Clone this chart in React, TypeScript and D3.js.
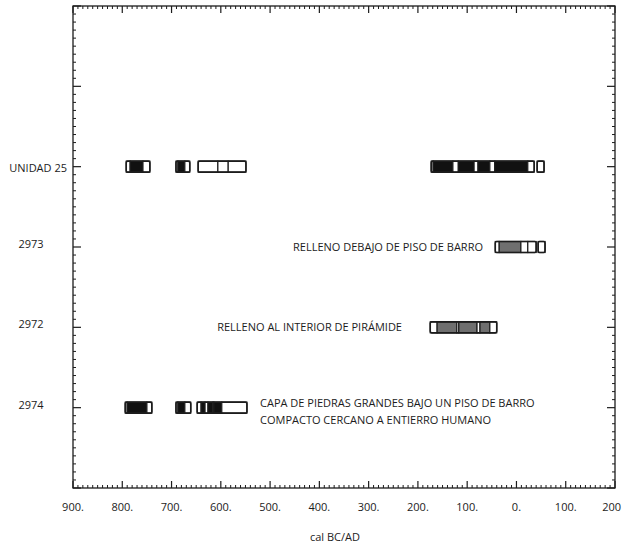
import React from 'react';
import * as d3 from 'd3';

// ---- data ----
const categories = ['UNIDAD 25', '2973', '2972', '2974'];
const categorySlots = [2, 3, 4, 5]; // position on the 0..6 vertical axis
const xTickValues = d3.range(-900, 201, 100); // negative = BC, positive = AD
const xTickLabels = xTickValues.map((v) => (v === 200 ? '200' : `${Math.abs(v)}.`));
const xAxisTitle = 'cal BC/AD';

type Seg = [number, number, 'b' | 'w' | 'g'];

const unidad25Boxes: Seg[][] = [
  [[-792, -784, 'w'], [-784, -758, 'b'], [-758, -744, 'w']],
  [[-691, -687, 'w'], [-687, -673, 'b'], [-673, -663, 'w']],
  [[-646, -606, 'w'], [-606, -585, 'w'], [-585, -549, 'w']],
  [[-173, -169, 'w'], [-169, -129, 'b'], [-129, -118, 'w'], [-118, -86, 'b'], [-86, -78, 'w'],
   [-78, -54, 'b'], [-54, -44, 'w'], [-44, 23, 'b'], [23, 36, 'w']],
  [[42, 56, 'w']],
];
const s2973Boxes: Seg[][] = [
  [[-43, -35, 'w'], [-35, 9, 'g'], [9, 23, 'w'], [23, 40, 'w']],
  [[44, 58, 'w']],
];
const s2972Boxes: Seg[][] = [
  [[-175, -161, 'w'], [-161, -121, 'g'], [-121, -117, 'w'], [-117, -80, 'g'], [-80, -74, 'w'],
   [-74, -54, 'g'], [-54, -40, 'w']],
];
const s2974Boxes: Seg[][] = [
  [[-794, -790, 'w'], [-790, -750, 'b'], [-750, -740, 'w']],
  [[-691, -687, 'w'], [-687, -673, 'b'], [-673, -661, 'w']],
  [[-648, -640, 'w'], [-640, -632, 'b'], [-632, -626, 'w'], [-626, -616, 'b'], [-616, -614, 'w'],
   [-614, -598, 'b'], [-598, -547, 'w']],
];
const rowBoxes = [unidad25Boxes, s2973Boxes, s2972Boxes, s2974Boxes];

const annot2973 = ['RELLENO DEBAJO DE PISO DE BARRO'];
const annot2972 = ['RELLENO AL INTERIOR DE PIRÁMIDE'];
const annot2974 = ['CAPA DE PIEDRAS GRANDES BAJO UN PISO DE BARRO', 'COMPACTO CERCANO A ENTIERRO HUMANO'];

// ---- layout ----
const W = 622, H = 550;
const L = 73, R = 615, T = 6, B = 488;
const INK = '#1c1c1c';
const FONT = "'Open Sans', sans-serif";
const fillOf = { b: '#111', w: '#fff', g: '#6f6f6f' } as const;

export default function App() {
  const x = d3.scaleLinear().domain([-900, 200]).range([L, R]);
  const y = d3.scaleLinear().domain([0, 6]).range([T, B]);
  const minorX = d3.range(-900, 201, 10).filter((v) => v % 100 !== 0);
  const majorY = d3.range(0, 7);
  const minorY = d3.range(0, 6.001, 0.1).filter((v) => Math.abs(v - Math.round(v)) > 0.01);
  const barH = 11;

  return (
    <svg width={W} height={H} style={{ position: 'absolute', left: 0, top: 0, background: '#fff' }}>
      <rect x={0} y={0} width={W} height={H} fill="#fff" />
      {/* frame */}
      <rect x={L} y={T} width={R - L} height={B - T} fill="none" stroke={INK} strokeWidth={1.3} />
      {/* x ticks (top & bottom) */}
      {xTickValues.map((v) => (
        <g key={'xm' + v} stroke={INK} strokeWidth={1.2}>
          <line x1={x(v)} x2={x(v)} y1={B} y2={B - 7} />
          <line x1={x(v)} x2={x(v)} y1={T} y2={T + 7} />
        </g>
      ))}
      {minorX.map((v) => (
        <g key={'xn' + v} stroke={INK} strokeWidth={1}>
          <line x1={x(v)} x2={x(v)} y1={B} y2={B - 3} />
          <line x1={x(v)} x2={x(v)} y1={T} y2={T + 3} />
        </g>
      ))}
      {/* y ticks (left & right) */}
      {majorY.map((v) => (
        <g key={'ym' + v} stroke={INK} strokeWidth={1.2}>
          <line x1={L} x2={L + 8} y1={y(v)} y2={y(v)} />
          <line x1={R} x2={R - 8} y1={y(v)} y2={y(v)} />
        </g>
      ))}
      {minorY.map((v) => (
        <g key={'yn' + v} stroke={INK} strokeWidth={1}>
          <line x1={L} x2={L + 3} y1={y(v)} y2={y(v)} />
          <line x1={R} x2={R - 3} y1={y(v)} y2={y(v)} />
        </g>
      ))}
      {/* x tick labels */}
      {xTickValues.map((v, i) => {
        const last = i === xTickValues.length - 1;
        return (
          <text key={'xl' + v} x={last ? W - 1 : x(v)} y={511} textAnchor={last ? 'end' : 'middle'}
            fontFamily={FONT} fontSize={11} fill={INK}>
            {xTickLabels[i]}
          </text>
        );
      })}
      <text x={335} y={541} textAnchor="middle" fontFamily={FONT} fontSize={11} fill={INK}>{xAxisTitle}</text>
      {/* y labels */}
      {categories.map((c, i) => {
        const yy = y(categorySlots[i]);
        const isWord = i === 0;
        return (
          <text key={c} x={isWord ? 67 : 31} y={isWord ? yy + 5 : yy + 1} textAnchor={isWord ? 'end' : 'middle'}
            fontFamily={FONT} fontSize={11} fill={INK}>{c}</text>
        );
      })}
      {/* bars */}
      {rowBoxes.map((boxes, ri) => {
        const yc = y(categorySlots[ri]);
        return (
          <g key={'row' + ri}>
            {boxes.map((box, bi) => (
              <g key={bi}>
                {box.map((s, si) => (
                  <rect key={si} x={x(s[0])} y={yc - barH / 2} width={x(s[1]) - x(s[0])} height={barH}
                    fill={fillOf[s[2]]} stroke={INK} strokeWidth={1.2} />
                ))}
                <rect x={x(box[0][0])} y={yc - barH / 2} width={x(box[box.length - 1][1]) - x(box[0][0])} height={barH}
                  rx={1.5} fill="none" stroke={INK} strokeWidth={1.6} />
              </g>
            ))}
          </g>
        );
      })}
      {/* annotations */}
      {annot2973.map((t, i) => (
        <text key={'a3' + i} x={483} y={y(3) + 4} textAnchor="end" fontFamily={FONT} fontSize={11} fill={INK}>{t}</text>
      ))}
      {annot2972.map((t, i) => (
        <text key={'a2' + i} x={402} y={y(4) + 4} textAnchor="end" fontFamily={FONT} fontSize={11} fill={INK}>{t}</text>
      ))}
      {annot2974.map((t, i) => (
        <text key={'a4' + i} x={260} y={407 + i * 17} textAnchor="start" fontFamily={FONT} fontSize={11} fill={INK}>{t}</text>
      ))}
    </svg>
  );
}
